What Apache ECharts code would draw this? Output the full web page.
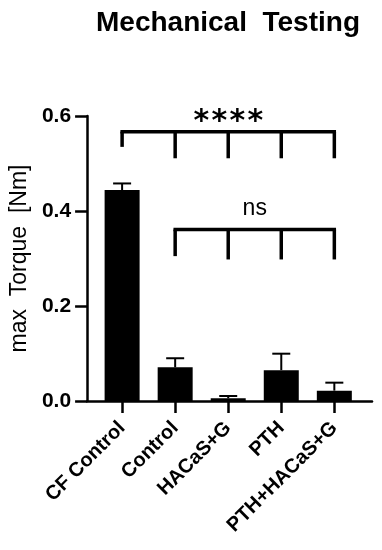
<!DOCTYPE html>
<html>
<head>
<meta charset="utf-8">
<script src="https://cdn.jsdelivr.net/npm/echarts@6/dist/echarts.min.js"></script>
<style>
html,body{margin:0;padding:0;background:#fff;}
#chart{width:382px;height:550px;}
</style>
</head>
<body>
<div id="chart"></div>
<script>
// ---- data ----
const categories = ['CF Control', 'Control', 'HACaS+G', 'PTH', 'PTH+HACaS+G'];
const means = [0.444, 0.071, 0.0056, 0.065, 0.0218];
const errTops = [0.458, 0.090, 0.0105, 0.0996, 0.0386];
const yTicks = [0, 0.2, 0.4, 0.6];
// significance brackets
const bracketLabels = ['****', 'ns'];
const bracketLevels = [0.567, 0.361];
const bracketCats = [[0, 1, 2, 3, 4], [1, 2, 3, 4]];
const bracketTickEnds = [[0.535, 0.511, 0.511, 0.511, 0.511], [0.305, 0.298, 0.298, 0.298, 0.298]];

const FONT = 'Liberation Sans, Arial, sans-serif';
const chart = echarts.init(document.getElementById('chart'));

const barData = categories.map((c, i) => [i, means[i]]);
const errData = categories.map((c, i) => [i, means[i], errTops[i]]);
const brData = bracketLabels.map((l, k) => [k]);

chart.setOption({
  animation: false,
  backgroundColor: '#fff',
  title: {
    text: 'Mechanical  Testing',
    left: 223, top: 4, textAlign: 'center',
    textStyle: {fontFamily: FONT, fontSize: 28, fontWeight: 'bold', color: '#000'}
  },
  grid: {left: 86, right: 10, top: 116, bottom: 149},
  xAxis: {
    type: 'value', min: -0.66, max: 4.71,
    splitLine: {show: false},
    axisLine: {show: true, lineStyle: {color: '#000', width: 2.5}},
    axisTick: {show: true, length: 12, lineStyle: {color: '#000', width: 2.5}, customValues: [0, 1, 2, 3, 4]},
    axisLabel: {
      customValues: [0, 1, 2, 3, 4],
      rotate: 45, margin: 24,
      formatter: v => categories[Math.round(v)],
      fontFamily: FONT, fontSize: 20, fontWeight: 'bold', color: '#000'
    }
  },
  yAxis: {
    type: 'value', min: 0, max: 0.6, interval: 0.2,
    name: 'max  Torque  [Nm]', nameLocation: 'middle', nameGap: 54, nameRotate: 90,
    nameTextStyle: {fontFamily: FONT, fontSize: 23, color: '#000'},
    splitLine: {show: false},
    axisLine: {show: true, onZero: false, lineStyle: {color: '#000', width: 2.5}},
    axisTick: {show: true, length: 12, lineStyle: {color: '#000', width: 2.5}},
    axisLabel: {
      margin: 16, formatter: v => v.toFixed(1),
      fontFamily: FONT, fontSize: 21, fontWeight: 'bold', color: '#000'
    }
  },
  series: [
    {
      type: 'custom', z: 1,
      data: errData,
      renderItem: (params, api) => {
        const x = api.value(0);
        const p0 = api.coord([x, api.value(1)]);
        const p1 = api.coord([x, api.value(2)]);
        return {
          type: 'group',
          children: [
            {type: 'line', shape: {x1: p0[0], y1: p0[1], x2: p1[0], y2: p1[1]}, style: {stroke: '#000', lineWidth: 2}},
            {type: 'line', shape: {x1: p1[0] - 9, y1: p1[1], x2: p1[0] + 9, y2: p1[1]}, style: {stroke: '#000', lineWidth: 2}}
          ]
        };
      }
    },
    {
      type: 'bar', z: 2,
      data: barData,
      barWidth: 35,
      itemStyle: {color: '#000'}
    },
    {
      type: 'custom', z: 3,
      data: brData,
      renderItem: (params, api) => {
        const k = params.dataIndex;
        const cats = bracketCats[k];
        const lvl = bracketLevels[k];
        const left = api.coord([cats[0], lvl]);
        const right = api.coord([cats[cats.length - 1], lvl]);
        const children = [
          {type: 'line', shape: {x1: left[0] - 1.7, y1: left[1], x2: right[0] + 1.7, y2: right[1]}, style: {stroke: '#000', lineWidth: 3.5}}
        ];
        cats.forEach((c, j) => {
          const a = api.coord([c, lvl]);
          const b = api.coord([c, bracketTickEnds[k][j]]);
          children.push({type: 'line', shape: {x1: a[0], y1: a[1], x2: b[0], y2: b[1]}, style: {stroke: '#000', lineWidth: 3.5}});
        });
        const cx = (left[0] + right[0]) / 2;
        const label = bracketLabels[k];
        if (label === '****') {
          const n = label.length;
          for (let j = 0; j < n; j++) {
            children.push({
              type: 'text',
              style: {
                text: '*',
                x: cx + (j - (n - 1) / 2) * 18, y: left[1] + 6,
                align: 'center', verticalAlign: 'bottom',
                fontFamily: 'DejaVu Sans', fontSize: 30, fontWeight: 'bold', fill: '#000'
              }
            });
          }
        } else {
          children.push({
            type: 'text',
            style: {
              text: label,
              x: cx, y: left[1] - 21,
              align: 'center', verticalAlign: 'middle',
              fontFamily: FONT, fontSize: 23, fill: '#000'
            }
          });
        }
        return {type: 'group', children};
      }
    }
  ]
});
</script>
</body>
</html>
